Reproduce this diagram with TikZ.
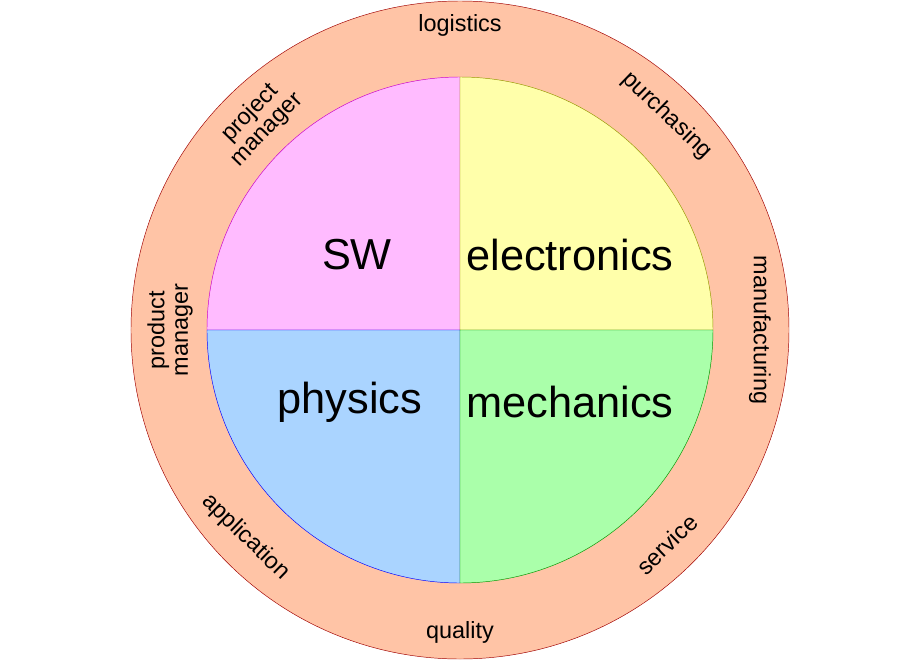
\documentclass[tikz,border=0pt]{standalone}
\usepackage{fontspec}
\setmainfont{Liberation Sans}
\begin{document}
\begin{tikzpicture}[x=0.03cm,y=0.03cm,
  ring/.style={font=\fontsize{20}{20}\selectfont,align=center,inner sep=1pt},
  big/.style={font=\fontsize{37}{40}\selectfont}]
\useasboundingbox (-460,-330) rectangle (460,330);
\fill[white] (-460,-330) rectangle (460,330);
\draw[draw={rgb,255:red,160;green,0;blue,0},fill={rgb,255:red,255;green,196;blue,166}] (0,0) circle (329);
\draw[draw={rgb,255:red,200;green,0;blue,200},fill={rgb,255:red,255;green,187;blue,255}] (0,0) -- (-253,0) arc (180:90:253) -- cycle;
\draw[draw={rgb,255:red,150;green,150;blue,0},fill={rgb,255:red,255;green,255;blue,170}] (0,0) -- (0,253) arc (90:0:253) -- cycle;
\draw[draw={rgb,255:red,0;green,0;blue,255},fill={rgb,255:red,170;green,212;blue,255}] (0,0) -- (0,-253) arc (270:180:253) -- cycle;
\draw[draw={rgb,255:red,0;green,150;blue,0},fill={rgb,255:red,170;green,255;blue,170}] (0,0) -- (253,0) arc (0:-90:253) -- cycle;
\node[big] (sw) at (-103,75) {SW};
\node[big] (el) at (110,75) {electronics};
\node[big] (ph) at (-110,-72) {physics};
\node[big] (me) at (110,-72) {mechanics};
\node[ring] (lo) at (90:305) {logistics};
\node[ring,rotate=-44] (pu) at (46:298) {purchasing};
\node[ring,rotate=-90] (ma) at (0:300) {manufacturing};
\node[ring,rotate=44] (se) at (-46:298) {service};
\node[ring] (qu) at (-90:302) {quality};
\node[ring,rotate=-44] (ap) at (-136:298) {application};
\node[ring,rotate=90] (pm) at (180:290) {product\\manager};
\node[ring,rotate=46] (pj) at (134:290) {project\\manager};
\end{tikzpicture}
\end{document}
